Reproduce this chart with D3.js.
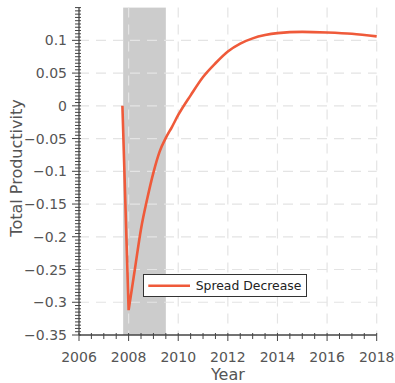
<!DOCTYPE html>
<html><head><meta charset="utf-8">
<script src="https://cdn.jsdelivr.net/npm/d3@7"></script>
<style>html,body{margin:0;padding:0;background:#fff;}svg{display:block;font-family:"DejaVu Sans",sans-serif;}</style>
</head><body><svg id="c" width="395" height="383"></svg>
<script>
const years = [2007.75,2008.0,2008.25,2008.5,2008.75,2009.0,2009.25,2009.5,2009.75,2010.0,2010.5,2011.0,2011.5,2012.0,2012.5,2013.0,2013.5,2014.0,2015.0,2016.0,2017.0,2018.0];
const spreadDecrease = [0,-0.312,-0.25,-0.188,-0.142,-0.102,-0.07,-0.049,-0.032,-0.014,0.016,0.044,0.065,0.083,0.095,0.103,0.108,0.111,0.113,0.112,0.110,0.106];
const recession = [2007.78, 2009.5];
const xTicks = [2006,2008,2010,2012,2014,2016,2018];
const yTicks = [-0.35,-0.3,-0.25,-0.2,-0.15,-0.1,-0.05,0,0.05,0.1];
const seriesName = "Spread Decrease";

const svg = d3.select("#c");
const x = d3.scaleLinear().domain([2006,2018]).range([79,376.7]);
const y = d3.scaleLinear().domain([-0.35,0.15]).range([335,7.6]);
const color = "#ef5a3a";

// recession shading
svg.append("rect").attr("x",x(recession[0])).attr("y",y(0.15))
  .attr("width",x(recession[1])-x(recession[0])).attr("height",y(-0.35)-y(0.15))
  .attr("fill","#cccccc");

// grid
const grid = svg.append("g").attr("stroke","#e4e4e4").attr("stroke-width",1.2).attr("stroke-dasharray","10,7");
xTicks.filter(d=>d>2006).forEach(d=>grid.append("line").attr("x1",x(d)).attr("x2",x(d)).attr("y1",y(0.15)).attr("y2",y(-0.35)));
yTicks.filter(d=>d>-0.35).forEach(d=>grid.append("line").attr("x1",x(2006)).attr("x2",x(2018)).attr("y1",y(d)).attr("y2",y(d)));

// line: sharp drop to the trough, then a smooth recovery
const pts = spreadDecrease.map((v,i)=>[years[i],v]);
const drop = d3.line().x(d=>x(d[0])).y(d=>y(d[1]));
const recov = d3.line().x(d=>x(d[0])).y(d=>y(d[1])).curve(d3.curveMonotoneX);
svg.append("path").attr("d",drop(pts.slice(0,2)) + recov(pts.slice(1)).replace(/^M[^A-Za-z]*/,m=>"L"+m.slice(1)))
  .attr("fill","none").attr("stroke",color).attr("stroke-width",2.6).attr("stroke-linejoin","miter");

// axes
const axCol = "#444";
const ax = svg.append("g").attr("stroke",axCol).attr("stroke-width",1.3);
ax.append("line").attr("x1",x(2006)).attr("x2",x(2006)).attr("y1",y(0.15)).attr("y2",y(-0.35));
ax.append("line").attr("x1",x(2006)).attr("x2",x(2018)).attr("y1",y(-0.35)).attr("y2",y(-0.35));
d3.range(-0.35,0.1501,0.005).forEach(v=>{
  const major = yTicks.some(t=>Math.abs(t-v)<1e-6);
  ax.append("line").attr("x1",x(2006)-(major?7:4)).attr("x2",x(2006)+2).attr("y1",y(v)).attr("y2",y(v)).attr("stroke-width",1);
});
d3.range(2006,2018.01,0.5).forEach(v=>{
  const major = xTicks.some(t=>Math.abs(t-v)<1e-6);
  ax.append("line").attr("x1",x(v)).attr("x2",x(v)).attr("y1",y(-0.35)-2).attr("y2",y(-0.35)+(major?6:4)).attr("stroke-width",1);
});

// tick labels
const lab = svg.append("g").attr("fill","#555").attr("font-size",14);
yTicks.forEach(t=>lab.append("text").attr("x",67).attr("y",y(t)).attr("dy","0.36em").attr("text-anchor","end").text(d3.format("")(+t.toFixed(2))));
xTicks.forEach(t=>lab.append("text").attr("x",x(t)).attr("y",361.5).attr("text-anchor","middle").text(t));

// axis titles
svg.append("text").attr("x",(x(2006)+x(2018))/2).attr("y",380).attr("text-anchor","middle").attr("font-size",16).attr("fill","#555").text("Year");
svg.append("text").attr("transform","translate(21.5,168) rotate(-90)").attr("text-anchor","middle").attr("font-size",16).attr("fill","#555").text("Total Productivity");

// legend
const lg = svg.append("g");
lg.append("rect").attr("x",143.5).attr("y",274.5).attr("width",163).attr("height",22).attr("fill","#fff").attr("stroke","#333").attr("stroke-width",1);
lg.append("line").attr("x1",148.3).attr("x2",190).attr("y1",285.7).attr("y2",285.7).attr("stroke",color).attr("stroke-width",2.6);
lg.append("text").attr("x",195.7).attr("y",285.7).attr("dy","0.36em").attr("font-size",12.4).attr("fill","#222").text(seriesName);
</script></body></html>
